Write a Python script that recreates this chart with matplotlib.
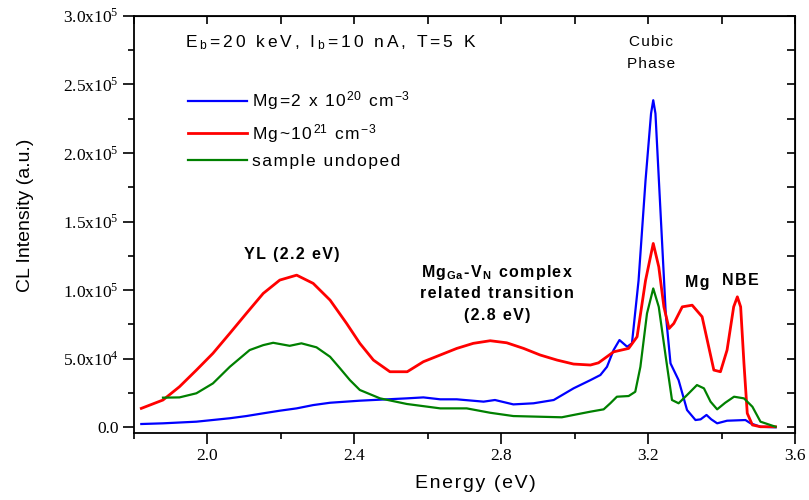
import matplotlib
matplotlib.use("Agg")
import re
import matplotlib.pyplot as plt
from matplotlib.ticker import FuncFormatter, MultipleLocator

plt.rcParams['font.family'] = ['Liberation Sans', 'DejaVu Sans']
plt.rcParams['mathtext.fontset'] = 'custom'
plt.rcParams['mathtext.rm'] = 'Liberation Sans'
plt.rcParams['mathtext.it'] = 'Liberation Sans:italic'
plt.rcParams['mathtext.bf'] = 'Liberation Sans:bold'

# ---- data ----
red_x = [1.82, 1.879, 1.924, 1.97, 2.015, 2.061, 2.106, 2.152, 2.197, 2.243, 2.288, 2.334,
         2.379, 2.415, 2.452, 2.497, 2.544, 2.588, 2.634, 2.679, 2.724, 2.77, 2.815, 2.861,
         2.906, 2.952, 2.997, 3.043, 3.065, 3.106, 3.147, 3.17, 3.193, 3.214, 3.229, 3.243,
         3.257, 3.27, 3.293, 3.32, 3.347, 3.365, 3.379, 3.397, 3.415, 3.433, 3.443, 3.452,
         3.461, 3.47, 3.484, 3.506, 3.547]
red_y = [13.8, 19.9, 29.6, 41.7, 53.9, 68.5, 83.0, 97.6, 107.3, 110.9, 104.9, 92.7,
         75.7, 61.2, 49.0, 40.5, 40.5, 47.8, 52.7, 57.5, 61.2, 63.1, 61.6, 57.5,
         52.7, 49.0, 46.1, 45.4, 47.0, 55.0, 57.5, 66.0, 107.0, 134.0, 117.0, 87.8,
         72.0, 75.7, 87.8, 89.0, 80.6, 58.7, 41.7, 40.5, 56.3, 87.8, 95.1, 87.8,
         46.6, 10.2, 1.7, 0.4, 0.4]

blue_x = [1.82, 1.879, 1.97, 2.061, 2.106, 2.152, 2.197, 2.243, 2.288, 2.334, 2.415,
          2.452, 2.543, 2.588, 2.634, 2.679, 2.752, 2.783, 2.833, 2.888, 2.943, 2.997,
          3.043, 3.07, 3.088, 3.106, 3.122, 3.143, 3.156, 3.174, 3.193, 3.208, 3.214,
          3.22, 3.234, 3.248, 3.261, 3.283, 3.306, 3.329, 3.343, 3.359, 3.372, 3.388,
          3.415, 3.465, 3.479, 3.506, 3.547]
blue_y = [2.4, 2.9, 4.1, 6.6, 8.2, 10.2, 12.1, 13.8, 16.2, 17.9, 19.4,
          19.9, 21.1, 21.8, 20.4, 20.4, 18.7, 19.9, 16.7, 17.5, 19.9, 28.4,
          34.4, 38.1, 44.1, 56.3, 63.6, 58.7, 61.2, 107.0, 180.0, 228.7, 238.4,
          228.7, 155.9, 83.0, 46.6, 34.4, 12.6, 5.3, 5.8, 9.0, 5.8, 2.9,
          4.8, 5.3, 2.9, 0.4, 0.0]

green_x = [1.879, 1.924, 1.97, 2.015, 2.061, 2.115, 2.152, 2.179, 2.224, 2.256, 2.297,
           2.334, 2.361, 2.388, 2.415, 2.47, 2.543, 2.634, 2.706, 2.77, 2.833, 2.906,
           2.965, 2.997, 3.043, 3.079, 3.097, 3.115, 3.147, 3.165, 3.179, 3.197, 3.214,
           3.229, 3.248, 3.265, 3.283, 3.306, 3.333, 3.352, 3.37, 3.388, 3.41, 3.434,
           3.461, 3.484, 3.506, 3.547]
green_y = [21.6, 21.8, 24.8, 32.0, 44.1, 56.3, 59.9, 61.6, 59.4, 61.2, 58.3,
           51.4, 43.0, 34.4, 27.2, 21.1, 17.0, 13.8, 13.8, 10.6, 8.2, 7.7,
           7.3, 9.0, 11.4, 13.1, 17.5, 22.3, 22.8, 25.9, 44.1, 83.0, 101.2,
           87.8, 51.4, 19.9, 17.5, 23.5, 30.8, 28.4, 18.7, 13.1, 17.9, 22.3,
           21.1, 15.0, 4.1, 0.4]

labels = [r'Mg=2 x 10$^{20}$ cm$^{-3}$', r'Mg~10$^{21}$ cm$^{-3}$', 'sample undoped']
colors = ['#0000ff', '#ff0000', '#008000']

y_ticks = [0, 50000, 100000, 150000, 200000, 250000, 300000]
x_ticks = [2.0, 2.4, 2.8, 3.2, 3.6]

HS = '\u200a'


def spaced(s, n=1.0):
    """Widen letter spacing of the plain-text parts (keeps $...$ parts intact)."""
    parts = re.split(r'(\$[^$]*\$)', s)
    acc = [0.0]

    def gap():
        acc[0] += n
        c = int(acc[0])
        acc[0] -= c
        return HS * c

    out = []
    for i, p in enumerate(parts):
        if p.startswith('$') and p.endswith('$') and len(p) > 1:
            out.append(p)
        elif p:
            t = ''
            if i > 0 and parts[i - 1]:
                t += gap()
            for j, ch in enumerate(p):
                if j > 0:
                    t += gap()
                t += ch
            if i + 1 < len(parts) and parts[i + 1]:
                t += gap()
            out.append(t)
    return ''.join(out)


fig = plt.figure(figsize=(8.09, 5.0), dpi=100)
ax = fig.add_axes([0.1656, 0.134, 0.8171, 0.8346])

k = 1000.0
lb, = ax.plot(blue_x, [v * k for v in blue_y], color=colors[0], lw=1.6, label=spaced(labels[0]))
lr, = ax.plot(red_x, [v * k for v in red_y], color=colors[1], lw=2.0, label=spaced(labels[1]))
lg, = ax.plot(green_x, [v * k for v in green_y], color=colors[2], lw=1.6, label=spaced(labels[2]))

ax.set_xlim(1.8, 3.6)
ax.set_ylim(-4150, 300000)

ax.set_xticks(x_ticks)
ax.xaxis.set_minor_locator(MultipleLocator(0.2))
ax.set_yticks(y_ticks)
ax.yaxis.set_minor_locator(MultipleLocator(25000))


def yfmt(v, pos):
    if abs(v) < 1e-9:
        return '0.0'
    exp = 0
    m = v
    while abs(m) >= 10:
        m /= 10.0
        exp += 1
    return '%.1fx10$^{\\mathregular{%d}}$' % (m, exp)


ax.yaxis.set_major_formatter(FuncFormatter(yfmt))
ax.xaxis.set_major_formatter(FuncFormatter(lambda v, p: '%.1f' % v))

ax.tick_params(which='both', direction='out', top=False, right=False, width=1.2)
ax.tick_params(which='major', length=8)
ax.tick_params(which='minor', length=4.5)
for lab in ax.get_xticklabels() + ax.get_yticklabels():
    lab.set_family('Liberation Serif')
    lab.set_fontsize(12.5)
ax.tick_params(axis='x', pad=3)
ax.tick_params(axis='y', pad=3)

for s in ax.spines.values():
    s.set_linewidth(1.3)

# inward ticks on top and right
sx = ax.secondary_xaxis('top')
sx.set_xticks([1.8, 2.0, 2.2, 2.4, 2.6, 2.8, 3.0, 3.2, 3.4, 3.6])
sx.tick_params(direction='in', length=6, width=1.2, labeltop=False)
sy = ax.secondary_yaxis('right')
sy.set_yticks([i * 25000 for i in range(13)])
sy.tick_params(direction='in', length=6, width=1.2, labelright=False)

ax.set_xlabel(spaced('Energy (eV)', 1.0), fontsize=14, labelpad=8, x=0.517)
ax.set_ylabel('CL Intensity (a.u.)', fontsize=14, labelpad=21, y=0.522)

leg = ax.legend(handles=[lb, lr, lg], loc='upper left', bbox_to_anchor=(0.0705, 0.84),
                frameon=False, fontsize=12.5, handlelength=3.4, handletextpad=0.3,
                labelspacing=0.55, borderaxespad=0)

ax.text(1.938, 280000, spaced(r'E$_{\mathregular{b}}$=20 keV, I$_{\mathregular{b}}$=10 nA, T=5 K', 2.0),
        fontsize=12.5, ha='left', va='center')
ax.text(3.207, 281000, spaced('Cubic'), fontsize=11, ha='center', va='center')
ax.text(3.207, 264600, spaced('Phase'), fontsize=11, ha='center', va='center')
ax.text(2.23, 125600, spaced('YL (2.2 eV)'), fontsize=11.5, fontweight='bold', ha='center', va='center')
ax.text(2.789, 113000, spaced(r'Mg$_{\mathbf{Ga}}$-V$_{\mathbf{N}}$ complex'), fontsize=11.5,
        fontweight='bold', ha='center', va='center')
ax.text(2.789, 97800, spaced('related transition'), fontsize=11.5, fontweight='bold',
        ha='center', va='center')
ax.text(2.789, 81800, spaced('(2.8 eV)'), fontsize=11.5, fontweight='bold', ha='center', va='center')
ax.text(3.334, 105800, spaced('Mg'), fontsize=11.5, fontweight='bold', ha='center', va='center')
ax.text(3.451, 107300, spaced('NBE'), fontsize=11.5, fontweight='bold', ha='center', va='center')

fig.savefig('out.png', dpi=100)
